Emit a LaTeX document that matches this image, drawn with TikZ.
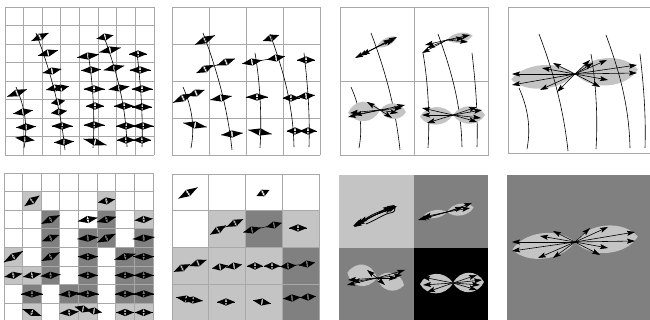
\documentclass[tikz,border=0pt]{standalone}
\usetikzlibrary{arrows.meta}
\definecolor{gridc}{HTML}{A8A8A8}
\definecolor{lightc}{HTML}{C4C4C4}
\definecolor{darkc}{HTML}{808080}
\tikzset{
 gridline/.style={draw=gridc,line width=0.9pt},
 stream/.style={line width=0.6pt},
 glyphline/.style={line width=0.5pt},
 carrow/.style={line width=0.6pt,-{Stealth[length=8pt,width=5pt,inset=1.5pt]}},
 lobefill/.style={fill=lightc},
 thinlink/.style={line width=0.5pt},
}
\newcommand\mydg[4]{\begin{scope}[shift={({#1},{#2})},rotate=#3]
\fill ({-(#4+4)/2},0) -- (-0.1,3.6) -- (-1.3,0) -- (-0.1,-3.6) -- cycle;
\fill ({(#4+4)/2},0) -- (0.1,3.6) -- (1.3,0) -- (0.1,-3.6) -- cycle;
\draw[glyphline] ({-(#4+4)/2},0) -- ({(#4+4)/2},0);
\end{scope}}
\newcommand\mylobe[5]{\fill[lobefill,shift={({#1},{#2})},rotate=#3] (0,0) .. controls (0.25*#4,1.35*#5) and (0.8*#4,1.25*#5) .. (#4,0) .. controls (0.8*#4,-1.25*#5) and (0.25*#4,-1.35*#5) .. (0,0);}
\newcommand\myfan[3]{\foreach \dx/\dy in {#3}{\draw[carrow] (#1,#2) -- ++(\dx,\dy);}}
\newcommand\mystreams[2]{%
\begin{scope}[shift={(#1,#2)}]
\draw[stream] (31,26) .. controls (42,55) and (55,95) .. (60,143);
\draw[stream] (11,80) .. controls (20,100) and (23,120) .. (19,141);
\draw[stream] (83,46) .. controls (88,75) and (90,110) .. (88,141);
\draw[stream] (98,27) .. controls (110,60) and (121,95) .. (122,140);
\draw[stream] (132,46) .. controls (136,80) and (138,110) .. (137,140);
\end{scope}}
% cell helpers
\newcommand\cfive[3]{\fill[#3] ({4+#2*18.625},{173+#1*18.6}) rectangle ++(18.625,18.6);}
\newcommand\csix[3]{\fill[#3] ({172+#2*36.9},{174+#1*36.9}) rectangle ++(36.9,36.9);}
\newcommand\gfive[4]{\mydg{4+(#2+0.5)*18.625}{173+(#1+0.5)*18.6}{#3}{#4}}

\begin{document}
\begin{tikzpicture}[x=1pt,y=-1pt]
\useasboundingbox (0,0) rectangle (650,320);
\clip (0,0) rectangle (650,320);

% ================= Panel 1 =================
\foreach \i in {0,...,8}{
  \draw[gridline] ({5+\i*18.625},7) -- ({5+\i*18.625},155);
  \draw[gridline] (5,{7+\i*18.5}) -- (154,{7+\i*18.5});
}
\mystreams{5}{7}
\mydg{17}{93}{20}{17}
\mydg{23}{112}{10}{16}
\mydg{26}{127}{3}{16}
\mydg{25}{139}{-8}{15}
\mydg{40}{37}{25}{15}
\mydg{48}{53}{15}{17}
\mydg{52}{71}{12}{15}
\mydg{55}{88}{12}{14}
\mydg{61}{88}{12}{12}
\mydg{58}{102}{10}{10}
\mydg{59}{112}{8}{12}
\mydg{62}{126}{0}{17}
\mydg{64}{142}{3}{16}
\mydg{88}{56}{8}{18}
\mydg{91}{70}{3}{16}
\mydg{94}{89}{0}{17}
\mydg{95}{106}{0}{14}
\mydg{94}{125}{0}{17}
\mydg{95}{142}{-15}{20}
\mydg{105}{37}{12}{13}
\mydg{110}{50}{12}{18}
\mydg{114}{68}{12}{17}
\mydg{119}{88}{8}{17}
\mydg{124}{106}{0}{16}
\mydg{126}{126}{0}{16}
\mydg{126}{140}{0}{14}
\mydg{138}{54}{0}{14}
\mydg{140}{70}{0}{17}
\mydg{142}{89}{0}{17}
\mydg{142}{107}{0}{16}
\mydg{143}{126}{0}{17}
\mydg{142}{140}{0}{14}

% ================= Panel 2 =================
\foreach \i in {0,...,4}{
  \draw[gridline] ({172+\i*37},7) -- ({172+\i*37},155);
  \draw[gridline] (172,{7+\i*37}) -- (320,{7+\i*37});
}
\mystreams{172}{7}
\mydg{205}{40}{25}{18}
\draw[thinlink] (205,69) -- (226,62);
\mydg{205}{69}{25}{15} \mydg{226}{62}{20}{15}
\mydg{183}{98}{25}{18} \mydg{196}{93}{20}{14}
\mydg{221}{98}{10}{18}
\mydg{257}{97}{0}{18}
\draw[thinlink] (291,98) -- (306,96);
\mydg{291}{98}{0}{13} \mydg{306}{96}{5}{14}
\mydg{195}{125}{-10}{20}
\mydg{232}{134}{5}{18}
\mydg{260}{132}{-10}{20}
\draw[thinlink] (295,131) -- (308,131);
\mydg{295}{131}{0}{13} \mydg{308}{131}{0}{13}
\draw[thinlink] (252,62) -- (276,58);
\mydg{252}{62}{10}{16} \mydg{276}{58}{10}{14}
\mydg{271}{38}{20}{13}
\mydg{306}{60}{0}{14}

% ================= Panel 3 =================
\draw[gridline] (340,7) rectangle (488,155);
\draw[gridline] (414,7) -- (414,155);
\draw[gridline] (340,81) -- (488,81);
\mystreams{340}{7}
% TL
\mylobe{377}{47}{27}{22}{4}
\myfan{377}{47}{-22/11,-18/9,-15/8,20/-10,17/-7,14/-8}
% TR
\mylobe{447}{40}{10}{26}{5}
\myfan{447}{40}{-25/13,-22/5,-20/8,23/-5,21/2,17/-2}
% BL
\mylobe{380}{110}{185}{32}{10}
\mylobe{380}{110}{-5}{26}{8}
\myfan{380}{110}{-32/7,-30/3,-26/5,-13/-8,25/-5,22/-2,12/8,18/3}
% BR
\mylobe{453}{115}{183}{33}{9}
\mylobe{453}{115}{0}{32}{9}
\myfan{453}{115}{-31/-7,-31/0,-26/8,24/-8,29/-5,24/7,28/3}

% ================= Panel 4 =================
\draw[gridline] (508,7) rectangle (656,153);
\mylobe{575}{74}{185}{64}{12}
\mylobe{575}{74}{4}{63}{14}
\mystreams{508}{8}
\myfan{575}{74}{-63/0,-63/11,-33/-6,-22/-11,-35/16,-18/18,62/-9,62/-1,32/-14,15/-14,18/-11,33/6,25/13}

% ================= Panel 5 =================
\cfive{1}{1}{lightc} \cfive{1}{5}{lightc}
\cfive{2}{2}{darkc} \cfive{2}{5}{darkc} \cfive{2}{7}{lightc}
\cfive{3}{2}{darkc} \cfive{3}{4}{darkc} \cfive{3}{5}{darkc} \cfive{3}{7}{darkc}
\cfive{4}{0}{lightc} \cfive{4}{2}{darkc} \cfive{4}{4}{darkc} \cfive{4}{6}{darkc} \cfive{4}{7}{darkc}
\cfive{5}{0}{lightc} \cfive{5}{1}{lightc} \cfive{5}{2}{darkc} \cfive{5}{4}{darkc} \cfive{5}{6}{darkc} \cfive{5}{7}{darkc}
\cfive{6}{1}{darkc} \cfive{6}{3}{darkc} \cfive{6}{4}{darkc} \cfive{6}{6}{darkc} \cfive{6}{7}{darkc}
\cfive{7}{1}{lightc} \cfive{7}{3}{lightc} \cfive{7}{4}{lightc} \cfive{7}{6}{lightc} \cfive{7}{7}{lightc}
\foreach \i in {0,...,8}{
  \draw[gridline] ({4+\i*18.625},173) -- ({4+\i*18.625},322);
  \draw[gridline] (4,{173+\i*18.6}) -- (153,{173+\i*18.6});
}
\gfive{1}{1}{35}{14} \gfive{1}{5}{10}{13}
\gfive{2}{2}{25}{16} \gfive{2}{4}{10}{16} \gfive{2}{5}{15}{16} \gfive{2}{7}{5}{14}
\gfive{3}{2}{20}{14} \gfive{3}{4}{5}{17} \gfive{3}{5}{25}{16} \gfive{3}{7}{5}{18}
\gfive{4}{0}{30}{18} \gfive{4}{2}{25}{16} \gfive{4}{4}{0}{16} \gfive{4}{6}{15}{18} \gfive{4}{7}{0}{17}
\gfive{5}{0}{10}{14} \gfive{5}{1}{10}{14} \gfive{5}{2}{5}{16} \gfive{5}{4}{0}{16} \gfive{5}{6}{0}{17} \gfive{5}{7}{0}{16}
\gfive{6}{1}{0}{18} \gfive{6}{3}{5}{17} \gfive{6}{4}{0}{18} \gfive{6}{6}{0}{16} \gfive{6}{7}{0}{17}
\gfive{7}{1}{-20}{16} \gfive{7}{3}{5}{15} \gfive{7}{6}{0}{14} \gfive{7}{7}{0}{14}
\mydg{83}{309}{-15}{13} \mydg{94}{311}{-10}{12}

% ================= Panel 6 =================
\csix{1}{1}{lightc} \csix{1}{2}{darkc} \csix{1}{3}{lightc}
\csix{2}{0}{lightc} \csix{2}{1}{lightc} \csix{2}{2}{lightc} \csix{2}{3}{darkc}
\csix{3}{0}{lightc} \csix{3}{1}{lightc} \csix{3}{2}{lightc} \csix{3}{3}{darkc}
\foreach \i in {0,...,4}{
  \draw[gridline] ({172+\i*36.9},174) -- ({172+\i*36.9},322);
  \draw[gridline] (172,{174+\i*36.9}) -- (319.6,{174+\i*36.9});
}
\mydg{188}{193}{30}{18}
\mydg{263}{193}{25}{10}
\draw[thinlink] (218,230) -- (235,223);
\mydg{218}{230}{30}{14} \mydg{235}{223}{25}{14}
\draw[thinlink] (252,230) -- (274,225);
\mydg{252}{230}{15}{14} \mydg{274}{225}{15}{12}
\mydg{298}{228}{0}{14}
\mydg{182}{268}{25}{14} \mydg{198}{263}{20}{14}
\mydg{220}{267}{10}{12} \mydg{234}{266}{10}{12}
\mydg{255}{266}{0}{12} \mydg{272}{266}{0}{12}
\draw[thinlink] (288,266) -- (307,264);
\mydg{288}{266}{5}{12} \mydg{307}{264}{10}{12}
\mydg{186}{299}{-10}{16} \mydg{193}{300}{-5}{16}
\mydg{226}{302}{0}{14}
\mydg{262}{302}{-10}{14}
\mydg{292}{298}{5}{14} \mydg{308}{297}{5}{12}

% ================= Panel 7 =================
\fill[lightc] (339,175) rectangle (413.5,248);
\fill[darkc] (413.5,175) rectangle (488,248);
\fill[darkc] (339,248) rectangle (413.5,322);
\fill[black] (413.5,248) rectangle (488,322);
% TL
\myfan{375}{215}{-22/11,-20/9,-18/10,-21/12,-16/7,22/-9,20/-10,18/-7,21/-8,16/-9}
\draw[line width=0.8pt] (362,222) .. controls (370,214) and (380,212) .. (388,208) .. controls (396,204) and (398,212) .. (390,213) .. controls (384,214) and (376,220) .. (366,224);
% TR
\mylobe{447}{212}{10}{27}{6}
\mylobe{447}{212}{190}{24}{4}
\myfan{447}{212}{-29/8,-24/5,-26/7,25/-9,23/-4,16/-5}
% BL
\mylobe{377}{278}{170}{30}{11}
\mylobe{377}{278}{-15}{28}{9}
\myfan{377}{278}{-30/7,-29/2,-25/4,-10/-8,8/7,28/-8,25/-3,20/0}
% BR
\mylobe{453}{283}{182}{33}{10}
\mylobe{453}{283}{2}{31}{10}
\myfan{453}{283}{-31/-6,-30/2,-26/9,24/-8,29/-3,24/7,27/2}

% ================= Panel 8 =================
\fill[darkc] (507,175) rectangle (656,322);
\mylobe{575}{242}{187}{63}{13}
\mylobe{575}{242}{5}{63}{14}
\myfan{575}{242}{-63/0,-63/9,-35/-6,-22/-11,-37/16,-22/16,60/-10,60/-1,33/-15,15/-14,33/6,25/13}
\end{tikzpicture}
\end{document}
